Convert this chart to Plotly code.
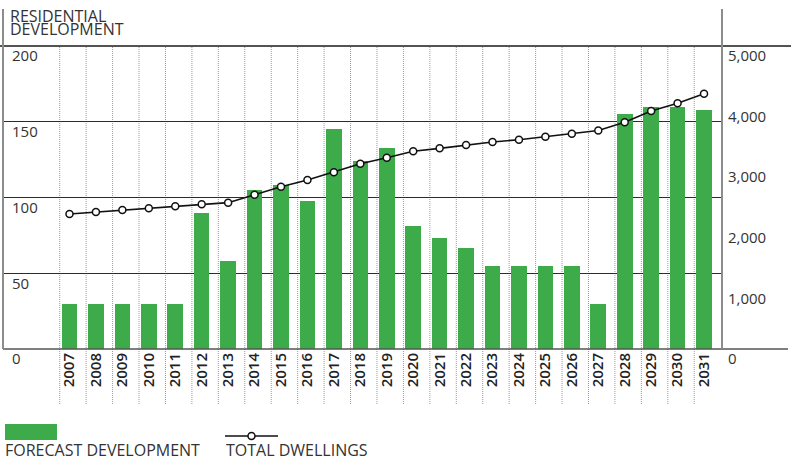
import plotly.graph_objects as go

years = [str(y) for y in range(2007, 2032)]
forecast_development = [30, 30, 30, 30, 30, 90, 58, 105, 108, 98, 145, 124, 133,
                        81, 73, 67, 55, 55, 55, 55, 30, 155, 160, 160, 158]
total_dwellings = [2228, 2261, 2294, 2322, 2355, 2388, 2415, 2547, 2679, 2789, 2918,
                   3058, 3157, 3262, 3311, 3366, 3416, 3454, 3504, 3553, 3605, 3741,
                   3927, 4054, 4213]
left_ticks = [0, 50, 100, 150, 200]
right_ticks = [0, 1000, 2000, 3000, 4000, 5000]
right_tick_labels = ["0", "1,000", "2,000", "3,000", "4,000", "5,000"]

W, H = 791, 462
ML, MR, MT, MB = 3, 69, 46, 113
PW = W - ML - MR
PH = H - MT - MB


def px(x):
    return (x - ML) / PW


def py(y):
    return (H - MB - y) / PH


FONT = "Open Sans"
TXT = "#333333"
GREEN = "#3dab4a"
idx = list(range(len(years)))

fig = go.Figure()
fig.add_trace(go.Bar(x=idx, y=forecast_development, marker=dict(color=GREEN, line=dict(width=0)),
                     width=0.59, name="FORECAST DEVELOPMENT", yaxis="y"))
fig.add_trace(go.Scatter(x=idx, y=total_dwellings, mode="lines+markers", yaxis="y2",
                         line=dict(color="#111111", width=1.6),
                         marker=dict(symbol="circle", size=7, color="white",
                                     line=dict(color="#111111", width=1.5)),
                         name="TOTAL DWELLINGS", cliponaxis=False))

shapes = []
for i in idx:
    shapes.append(dict(type="line", xref="x", yref="paper", x0=i - 0.37, x1=i - 0.37,
                       y0=py(404), y1=1, layer="below",
                       line=dict(color="#9a9a9a", width=1, dash="1px,1px")))
shapes += [
    dict(type="line", xref="paper", yref="paper", x0=px(0), x1=px(791), y0=1, y1=1,
         line=dict(color="#1a1a1a", width=1.3)),
    dict(type="line", xref="paper", yref="paper", x0=0, x1=px(788), y0=0, y1=0,
         line=dict(color="#555555", width=1.6)),
    dict(type="line", xref="paper", yref="paper", x0=0, x1=0, y0=0, y1=py(9),
         line=dict(color="#8c8c8c", width=2)),
    dict(type="line", xref="paper", yref="paper", x0=1, x1=1, y0=0, y1=py(9),
         line=dict(color="#8c8c8c", width=2)),
    # legend swatches
    dict(type="rect", xref="paper", yref="paper", x0=px(5), x1=px(57), y0=py(440), y1=py(424),
         fillcolor=GREEN, line=dict(width=0)),
    dict(type="line", xref="paper", yref="paper", x0=px(225), x1=px(278), y0=py(436), y1=py(436),
         line=dict(color="#111111", width=1.6)),
    dict(type="circle", xref="paper", yref="paper", x0=px(248), x1=px(255), y0=py(439.5),
         y1=py(432.5), fillcolor="white", line=dict(color="#111111", width=1.5)),
]

annotations = [
    dict(text="RESIDENTIAL", x=px(8), y=py(16.5), xref="paper", yref="paper", xanchor="left",
         yanchor="middle", showarrow=False, font=dict(family=FONT, size=16, color=TXT)),
    dict(text="DEVELOPMENT", x=px(8), y=py(29.5), xref="paper", yref="paper", xanchor="left",
         yanchor="middle", showarrow=False, font=dict(family=FONT, size=16, color=TXT)),
    dict(text="FORECAST DEVELOPMENT", x=px(3), y=py(450), xref="paper", yref="paper",
         xanchor="left", yanchor="middle", showarrow=False,
         font=dict(family=FONT, size=16, color=TXT)),
    dict(text="TOTAL DWELLINGS", x=px(224), y=py(450), xref="paper", yref="paper",
         xanchor="left", yanchor="middle", showarrow=False,
         font=dict(family=FONT, size=16, color=TXT)),
]

fig.update_layout(
    width=W, height=H, autosize=False,
    margin=dict(l=ML, r=MR, t=MT, b=MB, pad=0),
    paper_bgcolor="white", plot_bgcolor="white",
    showlegend=False, bargap=0,
    font=dict(family=FONT, color=TXT),
    xaxis=dict(range=[-2.515, 24.68], tickmode="array", tickvals=idx, ticktext=years,
               tickangle=-90, showgrid=False, zeroline=False, showline=False, ticks="",
               tickfont=dict(family=FONT, size=15, color="#222222", weight=600)),
    yaxis=dict(range=[0, 200], tickmode="array", tickvals=left_ticks,
               ticktext=[str(v) for v in left_ticks],
               showgrid=True, gridcolor="#2b2b2b", gridwidth=1, zeroline=False,
               showline=False, ticks="", ticklabelposition="inside",
               ticklabeloverflow="allow", ticklabelshift=10, ticklabelstandoff=6,
               tickfont=dict(family=FONT, size=15, color=TXT)),
    yaxis2=dict(range=[0, 5000], overlaying="y", side="right", tickmode="array",
                tickvals=right_ticks, ticktext=right_tick_labels, showgrid=False,
                zeroline=False, showline=False, ticks="", ticklabelshift=10,
                ticklabelstandoff=5, ticklabeloverflow="allow",
                tickfont=dict(family=FONT, size=15, color=TXT)),
    shapes=shapes,
    annotations=annotations,
)

fig.write_html("out.html", config={"displayModeBar": False},
               post_script="document.body.style.margin='0px';")
